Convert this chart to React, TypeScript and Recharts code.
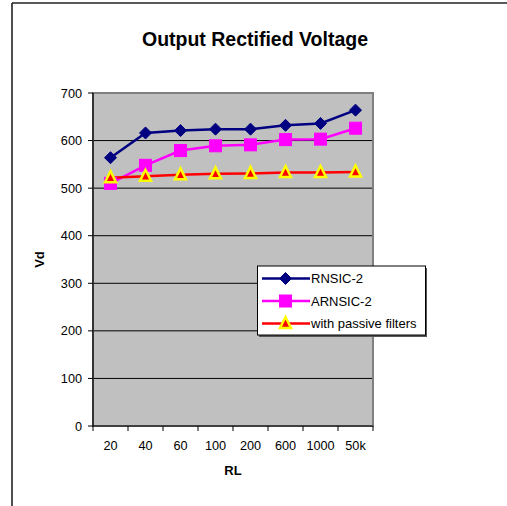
import React from 'react';
import { LineChart, Line, XAxis, YAxis, CartesianGrid, ReferenceArea } from 'recharts';

const categories = ['20', '40', '60', '100', '200', '600', '1000', '50k'];
const rnsic2 = [564, 616, 621, 624, 624, 632, 636, 664];
const arnsic2 = [510, 548, 579, 589, 591, 602, 603, 626];
const passive = [522, 525, 528, 530, 531, 533, 533, 534];
const yTicks = [0, 100, 200, 300, 400, 500, 600, 700];
const boundaryTicks = [0, 1, 2, 3, 4, 5, 6, 7, 8];

const seriesNames = ['RNSIC-2', 'ARNSIC-2', 'with passive filters'];

const data = categories.map((c, i) => ({
  cat: c,
  idx: i + 0.5,
  rnsic: rnsic2[i],
  arnsic: arnsic2[i],
  passive: passive[i],
}));

const FONT = '"Liberation Sans", Arial, sans-serif';
const HALF_BAND = 17.5;

const Diamond = ({ cx, cy }: { cx: number; cy: number }) => (
  <polygon points={`${cx},${cy - 6} ${cx + 6},${cy} ${cx},${cy + 6} ${cx - 6},${cy}`} fill="#000080" stroke="#000080" strokeWidth={1} />
);
const Square = ({ cx, cy }: { cx: number; cy: number }) => (
  <rect x={cx - 6} y={cy - 6} width={12} height={12} fill="#FF00FF" stroke="#FF00FF" strokeWidth={1} />
);
const Triangle = ({ cx, cy }: { cx: number; cy: number }) => (
  <polygon points={`${cx},${cy - 6.5} ${cx + 5.5},${cy + 4.5} ${cx - 5.5},${cy + 4.5}`} fill="#FF0000" stroke="#FFFF00" strokeWidth={2.5} strokeLinejoin="miter" />
);

const markers = [Diamond, Square, Triangle];
const colors = ['#000080', '#FF00FF', '#FF0000'];

const CatTick = (props: any) => {
  const { x, y, payload } = props;
  const v = payload.value as number;
  if (v >= categories.length) return <g />;
  return (
    <text x={x + HALF_BAND} y={y} dy="0.71em" textAnchor="middle" fontFamily={FONT} fontSize={12.7} fill="#000">
      {categories[v]}
    </text>
  );
};

export default function App() {
  return (
    <div style={{ position: 'fixed', left: 0, top: 0, width: 507, height: 506, background: '#fff', fontFamily: FONT }}>
      <LineChart width={507} height={506} data={data} margin={{ top: 93, right: 134, bottom: 0, left: 0 }}>
        <CartesianGrid vertical={false} stroke="#000" fill="#C0C0C0" fillOpacity={1} />
        <ReferenceArea x1={0} x2={8} y1={0} y2={700} fill="none" stroke="#808080" strokeWidth={2} ifOverflow="visible" />
        <XAxis
          dataKey="idx"
          type="number"
          domain={[0, 8]}
          ticks={boundaryTicks}
          interval={0}
          height={80}
          tickSize={5}
          tickMargin={10}
          tickLine={{ stroke: '#000' }}
          axisLine={{ stroke: '#000', strokeWidth: 1.2 }}
          tick={<CatTick />}
          allowDataOverflow
          label={{ value: 'RL', position: 'insideTop', offset: 40, style: { fontWeight: 'bold', fontSize: 13, fill: '#000', fontFamily: FONT } }}
        />
        <YAxis
          width={93}
          domain={[0, 700]}
          ticks={yTicks}
          interval={0}
          tickSize={5}
          tickMargin={6}
          tickLine={{ stroke: '#000' }}
          axisLine={{ stroke: '#000', strokeWidth: 1.2 }}
          tick={{ fill: '#000', fontSize: 12.7, fontFamily: FONT }}
          label={{ value: 'Vd', angle: -90, position: 'insideLeft', offset: 39, style: { fontWeight: 'bold', fontSize: 13, fill: '#000', fontFamily: FONT, textAnchor: 'middle' } }}
        />
        {(['rnsic', 'arnsic', 'passive'] as const).map((key, si) => {
          const M = markers[si];
          return (
            <Line
              key={key}
              dataKey={key}
              name={seriesNames[si]}
              stroke={colors[si]}
              strokeWidth={2.5}
              isAnimationActive={false}
              dot={(p: any) => <M key={`${key}-${p.index}`} cx={p.cx} cy={p.cy} />}
              activeDot={false}
            />
          );
        })}
      </LineChart>
      <svg width={507} height={506} style={{ position: 'absolute', left: 0, top: 0, pointerEvents: 'none' }}>
        <line x1={12} y1={3} x2={507} y2={3} stroke="#222" strokeWidth={1.6} />
        <line x1={12} y1={3} x2={12} y2={506} stroke="#222" strokeWidth={1.6} />
        <text x={255} y={46} textAnchor="middle" fontFamily={FONT} fontWeight="bold" fontSize={19.5} fill="#000">
          Output Rectified Voltage
        </text>
        <rect x={259} y={268} width={168} height={69} fill="#555" />
        <rect x={257.5} y={266} width={168} height={69} fill="#fff" stroke="#000" strokeWidth={1} />
        {seriesNames.map((name, i) => {
          const M = markers[i];
          const cy = 278.5 + i * 22.5;
          return (
            <g key={name}>
              <line x1={262} y1={cy} x2={310} y2={cy} stroke={colors[i]} strokeWidth={2.5} />
              <M cx={285.5} cy={cy} />
              <text x={311} y={cy + 4.6} fontFamily={FONT} fontSize={13} fill="#000">{name}</text>
            </g>
          );
        })}
      </svg>
    </div>
  );
}
